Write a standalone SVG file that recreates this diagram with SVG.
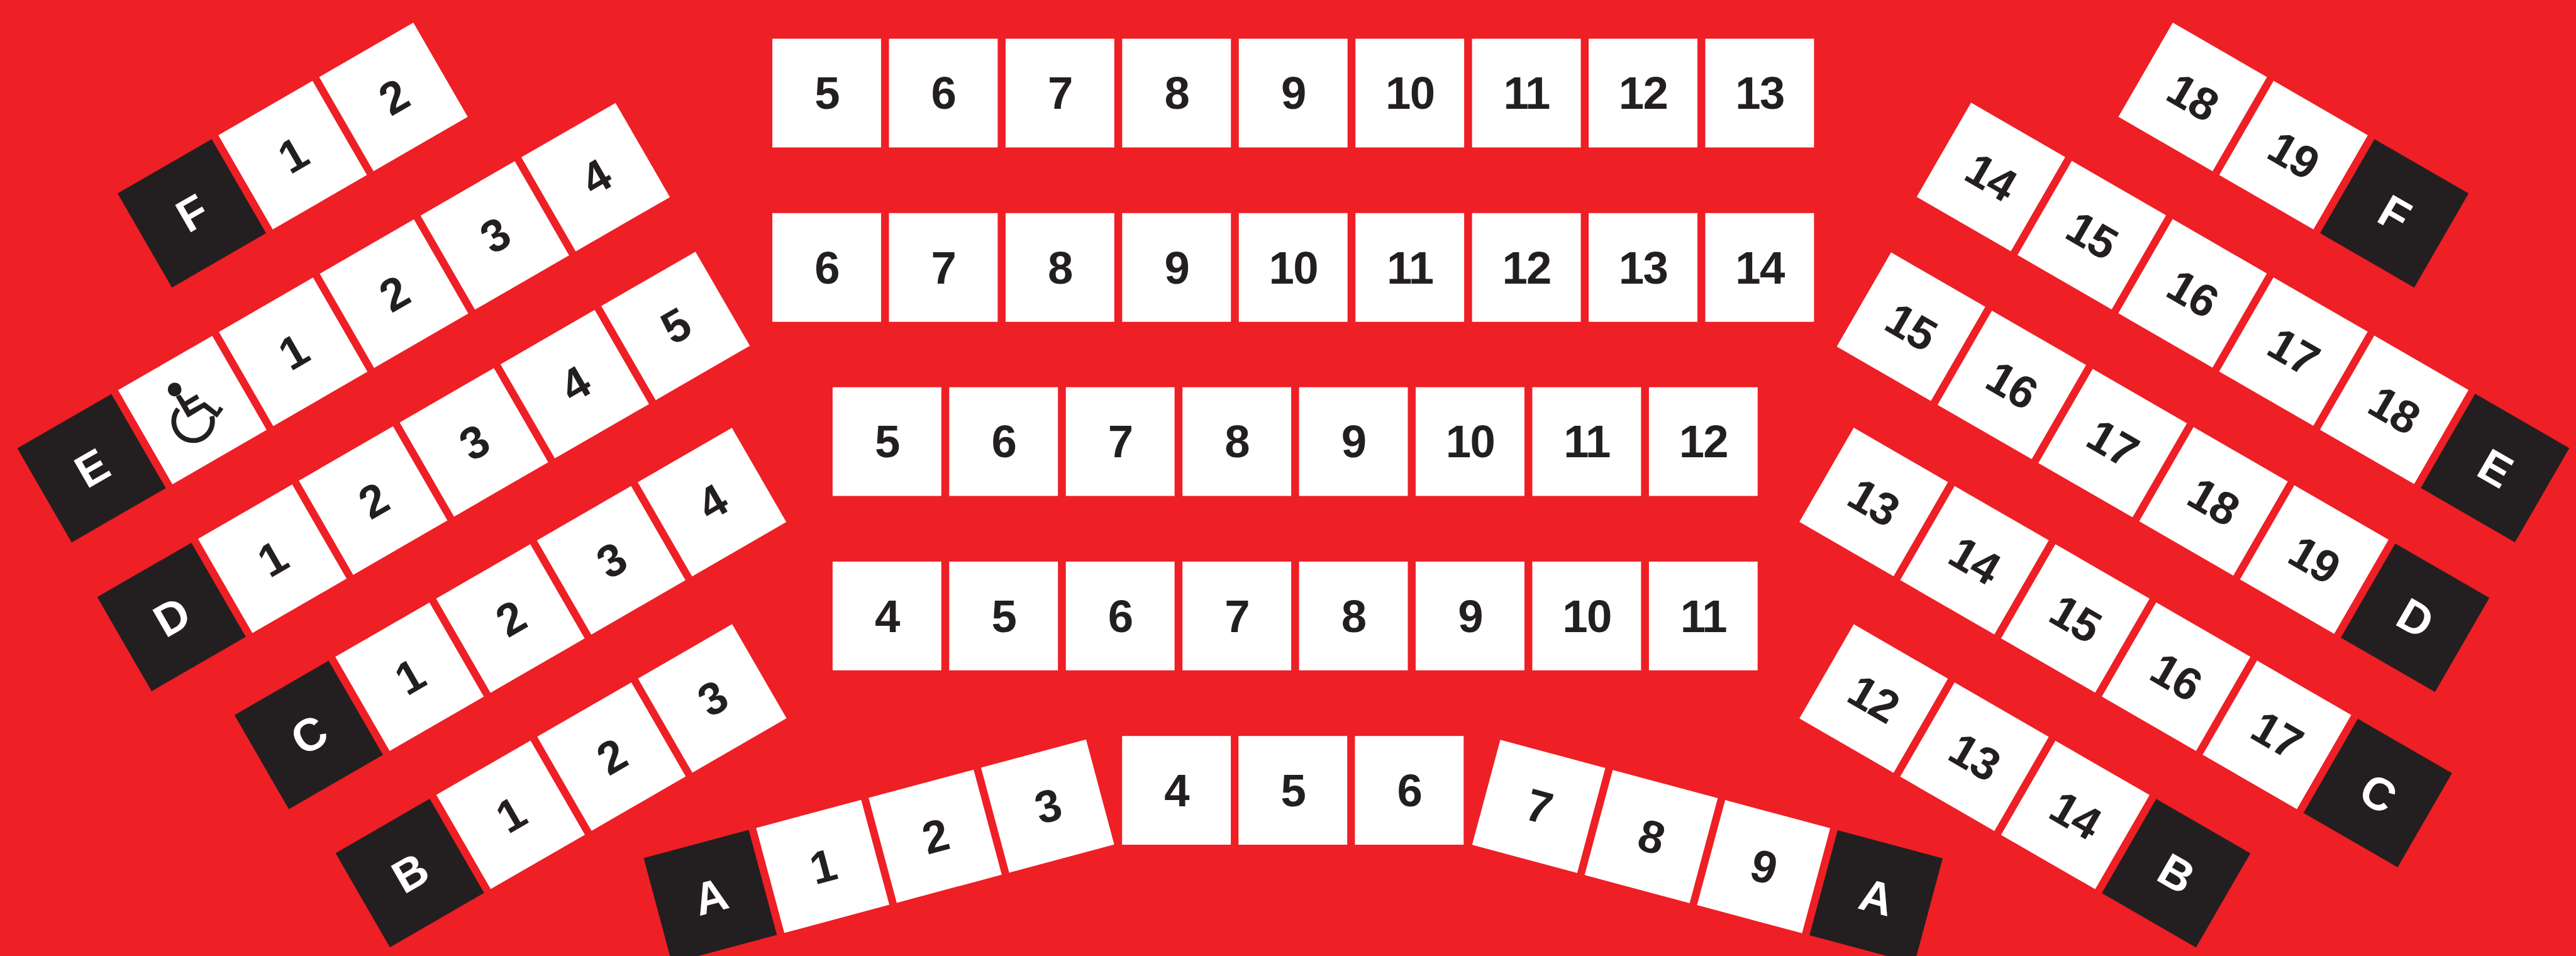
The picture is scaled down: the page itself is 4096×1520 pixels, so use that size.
<svg xmlns="http://www.w3.org/2000/svg" width="4096" height="1520" viewBox="0 0 4096 1520">
<style>
rect.s{fill:#fff}
rect.k{fill:#231f20}
text{font-family:"Liberation Sans",Arial,sans-serif;font-weight:700;font-size:89px;letter-spacing:-2px;text-anchor:middle;fill:#231f20}
text.w{fill:#fff}
</style>
<defs>
<rect id="seat" class="s" x="-106" y="-106" width="212" height="212"/>
<rect id="row" class="k" x="-106" y="-106" width="212" height="212"/>
</defs>
<rect width="4096" height="1520" fill="#ee1f25"/>
<g transform="scale(0.81545)">
<g id="center-1" transform="translate(1612 181.5)">
<g id="c1-5"><use href="#seat"/><text y="31">5</text></g>
<g id="c1-6" transform="translate(227.4 0)"><use href="#seat"/><text y="31">6</text></g>
<g id="c1-7" transform="translate(454.8 0)"><use href="#seat"/><text y="31">7</text></g>
<g id="c1-8" transform="translate(682.2 0)"><use href="#seat"/><text y="31">8</text></g>
<g id="c1-9" transform="translate(909.6 0)"><use href="#seat"/><text y="31">9</text></g>
<g id="c1-10" transform="translate(1137 0)"><use href="#seat"/><text y="31">10</text></g>
<g id="c1-11" transform="translate(1364.4 0)"><use href="#seat"/><text y="31">11</text></g>
<g id="c1-12" transform="translate(1591.8 0)"><use href="#seat"/><text y="31">12</text></g>
<g id="c1-13" transform="translate(1819.2 0)"><use href="#seat"/><text y="31">13</text></g>
</g>
<g id="center-2" transform="translate(1612 521.5)">
<g id="c2-6"><use href="#seat"/><text y="31">6</text></g>
<g id="c2-7" transform="translate(227.4 0)"><use href="#seat"/><text y="31">7</text></g>
<g id="c2-8" transform="translate(454.8 0)"><use href="#seat"/><text y="31">8</text></g>
<g id="c2-9" transform="translate(682.2 0)"><use href="#seat"/><text y="31">9</text></g>
<g id="c2-10" transform="translate(909.6 0)"><use href="#seat"/><text y="31">10</text></g>
<g id="c2-11" transform="translate(1137 0)"><use href="#seat"/><text y="31">11</text></g>
<g id="c2-12" transform="translate(1364.4 0)"><use href="#seat"/><text y="31">12</text></g>
<g id="c2-13" transform="translate(1591.8 0)"><use href="#seat"/><text y="31">13</text></g>
<g id="c2-14" transform="translate(1819.2 0)"><use href="#seat"/><text y="31">14</text></g>
</g>
<g id="center-3" transform="translate(1729.5 861)">
<g id="c3-5"><use href="#seat"/><text y="31">5</text></g>
<g id="c3-6" transform="translate(227.4 0)"><use href="#seat"/><text y="31">6</text></g>
<g id="c3-7" transform="translate(454.8 0)"><use href="#seat"/><text y="31">7</text></g>
<g id="c3-8" transform="translate(682.2 0)"><use href="#seat"/><text y="31">8</text></g>
<g id="c3-9" transform="translate(909.6 0)"><use href="#seat"/><text y="31">9</text></g>
<g id="c3-10" transform="translate(1137 0)"><use href="#seat"/><text y="31">10</text></g>
<g id="c3-11" transform="translate(1364.4 0)"><use href="#seat"/><text y="31">11</text></g>
<g id="c3-12" transform="translate(1591.8 0)"><use href="#seat"/><text y="31">12</text></g>
</g>
<g id="center-4" transform="translate(1729.5 1201)">
<g id="c4-4"><use href="#seat"/><text y="31">4</text></g>
<g id="c4-5" transform="translate(227.4 0)"><use href="#seat"/><text y="31">5</text></g>
<g id="c4-6" transform="translate(454.8 0)"><use href="#seat"/><text y="31">6</text></g>
<g id="c4-7" transform="translate(682.2 0)"><use href="#seat"/><text y="31">7</text></g>
<g id="c4-8" transform="translate(909.6 0)"><use href="#seat"/><text y="31">8</text></g>
<g id="c4-9" transform="translate(1137 0)"><use href="#seat"/><text y="31">9</text></g>
<g id="c4-10" transform="translate(1364.4 0)"><use href="#seat"/><text y="31">10</text></g>
<g id="c4-11" transform="translate(1591.8 0)"><use href="#seat"/><text y="31">11</text></g>
</g>
<g id="center-5" transform="translate(2294 1541)">
<g id="c5-4"><use href="#seat"/><text y="31">4</text></g>
<g id="c5-5" transform="translate(227 0)"><use href="#seat"/><text y="31">5</text></g>
<g id="c5-6" transform="translate(454 0)"><use href="#seat"/><text y="31">6</text></g>
</g>
<g id="left-F" transform="translate(374 416) rotate(-30)">
<g id="lF-row"><use href="#row"/><text class="w" y="31">F</text></g>
<g id="lF-1" transform="translate(227 0)"><use href="#seat"/><text y="31">1</text></g>
<g id="lF-2" transform="translate(454 0)"><use href="#seat"/><text y="31">2</text></g>
</g>
<g id="left-E" transform="translate(178.5 913) rotate(-30)">
<g id="lE-row"><use href="#row"/><text class="w" y="31">E</text></g>
<g id="lE-wheelchair" transform="translate(227 0)"><use href="#seat"/>
<g fill="#231f20"><circle cx="-9.9" cy="-51.9" r="13.3"/>
<path d="M-5.35 -37.7L-4.2 -21.7L23.15 -22.4L23 -12.9L-4.5 -12.6L-4.5 -2.6L28.6 -1.9L40 27L49.3 20.3L53.4 28.5L34.4 36.8L21.4 7.3L-15 8.3L-14.9 -38.6Z"/>
<path d="M-22.8 -15.7A37.7 37.7 0 1 0 26.8 29.5" fill="none" stroke="#231f20" stroke-width="9.5"/></g></g>
<g id="lE-1" transform="translate(454 0)"><use href="#seat"/><text y="31">1</text></g>
<g id="lE-2" transform="translate(681 0)"><use href="#seat"/><text y="31">2</text></g>
<g id="lE-3" transform="translate(908 0)"><use href="#seat"/><text y="31">3</text></g>
<g id="lE-4" transform="translate(1135 0)"><use href="#seat"/><text y="31">4</text></g>
</g>
<g id="left-D" transform="translate(334.4 1203) rotate(-30)">
<g id="lD-row"><use href="#row"/><text class="w" y="31">D</text></g>
<g id="lD-1" transform="translate(227 0)"><use href="#seat"/><text y="31">1</text></g>
<g id="lD-2" transform="translate(454 0)"><use href="#seat"/><text y="31">2</text></g>
<g id="lD-3" transform="translate(681 0)"><use href="#seat"/><text y="31">3</text></g>
<g id="lD-4" transform="translate(908 0)"><use href="#seat"/><text y="31">4</text></g>
<g id="lD-5" transform="translate(1135 0)"><use href="#seat"/><text y="31">5</text></g>
</g>
<g id="left-C" transform="translate(602 1433) rotate(-30)">
<g id="lC-row"><use href="#row"/><text class="w" y="31">C</text></g>
<g id="lC-1" transform="translate(227 0)"><use href="#seat"/><text y="31">1</text></g>
<g id="lC-2" transform="translate(454 0)"><use href="#seat"/><text y="31">2</text></g>
<g id="lC-3" transform="translate(681 0)"><use href="#seat"/><text y="31">3</text></g>
<g id="lC-4" transform="translate(908 0)"><use href="#seat"/><text y="31">4</text></g>
</g>
<g id="left-B" transform="translate(799.1 1702.2) rotate(-30)">
<g id="lB-row"><use href="#row"/><text class="w" y="31">B</text></g>
<g id="lB-1" transform="translate(227 0)"><use href="#seat"/><text y="31">1</text></g>
<g id="lB-2" transform="translate(454 0)"><use href="#seat"/><text y="31">2</text></g>
<g id="lB-3" transform="translate(681 0)"><use href="#seat"/><text y="31">3</text></g>
</g>
<g id="left-A" transform="translate(1385 1748) rotate(-15)">
<g id="lA-row"><use href="#row"/><text class="w" y="31">A</text></g>
<g id="lA-1" transform="translate(227 0)"><use href="#seat"/><text y="31">1</text></g>
<g id="lA-2" transform="translate(454 0)"><use href="#seat"/><text y="31">2</text></g>
<g id="lA-3" transform="translate(681 0)"><use href="#seat"/><text y="31">3</text></g>
</g>
<g id="right-F" transform="translate(4275.6 189) rotate(30)">
<g id="rF-18"><use href="#seat"/><text y="31">18</text></g>
<g id="rF-19" transform="translate(227 0)"><use href="#seat"/><text y="31">19</text></g>
<g id="rF-row" transform="translate(454 0)"><use href="#row"/><text class="w" y="31">F</text></g>
</g>
<g id="right-E" transform="translate(3882.2 345) rotate(30)">
<g id="rE-14"><use href="#seat"/><text y="31">14</text></g>
<g id="rE-15" transform="translate(227 0)"><use href="#seat"/><text y="31">15</text></g>
<g id="rE-16" transform="translate(454 0)"><use href="#seat"/><text y="31">16</text></g>
<g id="rE-17" transform="translate(681 0)"><use href="#seat"/><text y="31">17</text></g>
<g id="rE-18" transform="translate(908 0)"><use href="#seat"/><text y="31">18</text></g>
<g id="rE-row" transform="translate(1135 0)"><use href="#row"/><text class="w" y="31">E</text></g>
</g>
<g id="right-D" transform="translate(3726.3 637) rotate(30)">
<g id="rD-15"><use href="#seat"/><text y="31">15</text></g>
<g id="rD-16" transform="translate(227 0)"><use href="#seat"/><text y="31">16</text></g>
<g id="rD-17" transform="translate(454 0)"><use href="#seat"/><text y="31">17</text></g>
<g id="rD-18" transform="translate(681 0)"><use href="#seat"/><text y="31">18</text></g>
<g id="rD-19" transform="translate(908 0)"><use href="#seat"/><text y="31">19</text></g>
<g id="rD-row" transform="translate(1135 0)"><use href="#row"/><text class="w" y="31">D</text></g>
</g>
<g id="right-C" transform="translate(3653.5 978.8) rotate(30)">
<g id="rC-13"><use href="#seat"/><text y="31">13</text></g>
<g id="rC-14" transform="translate(227 0)"><use href="#seat"/><text y="31">14</text></g>
<g id="rC-15" transform="translate(454 0)"><use href="#seat"/><text y="31">15</text></g>
<g id="rC-16" transform="translate(681 0)"><use href="#seat"/><text y="31">16</text></g>
<g id="rC-17" transform="translate(908 0)"><use href="#seat"/><text y="31">17</text></g>
<g id="rC-row" transform="translate(1135 0)"><use href="#row"/><text class="w" y="31">C</text></g>
</g>
<g id="right-B" transform="translate(3653.5 1362) rotate(30)">
<g id="rB-12"><use href="#seat"/><text y="31">12</text></g>
<g id="rB-13" transform="translate(227 0)"><use href="#seat"/><text y="31">13</text></g>
<g id="rB-14" transform="translate(454 0)"><use href="#seat"/><text y="31">14</text></g>
<g id="rB-row" transform="translate(681 0)"><use href="#row"/><text class="w" y="31">B</text></g>
</g>
<g id="right-A" transform="translate(3000.4 1572.3) rotate(15)">
<g id="rA-7"><use href="#seat"/><text y="31">7</text></g>
<g id="rA-8" transform="translate(227 0)"><use href="#seat"/><text y="31">8</text></g>
<g id="rA-9" transform="translate(454 0)"><use href="#seat"/><text y="31">9</text></g>
<g id="rA-row" transform="translate(681 0)"><use href="#row"/><text class="w" y="31">A</text></g>
</g>
<g id="connectors"/>
</g>
</svg>
